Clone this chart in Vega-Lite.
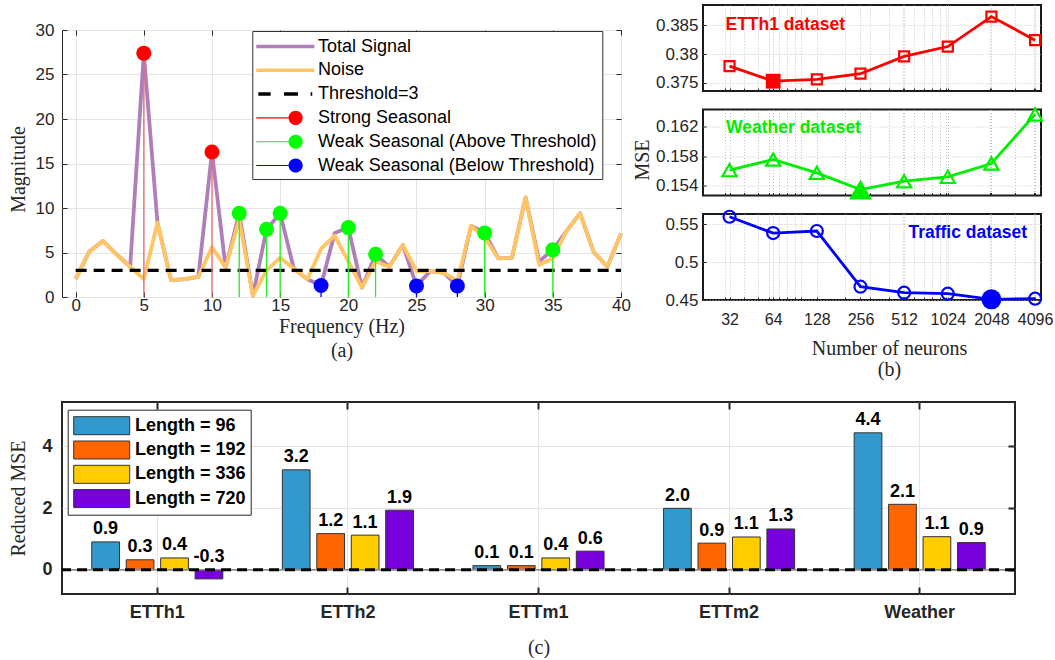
{
"$schema": "https://vega.github.io/schema/vega-lite/v6.json",
"background": "white",
"padding": {"left": 7, "top": 4, "right": 0, "bottom": 0},
"autosize": {"type": "pad"},
"align": "none",
"spacing": 20,
"resolve": {"scale": {"fill": "independent", "stroke": "independent", "shape": "independent", "color": "independent"}, "legend": {"fill": "independent", "stroke": "independent", "shape": "independent", "color": "independent"}},
"datasets": {
"spec": [
{"f":0,"total":2.0,"noise":2.0},
{"f":1,"total":5.1,"noise":5.1},
{"f":2,"total":6.3,"noise":6.3},
{"f":3,"total":4.8,"noise":4.8},
{"f":4,"total":3.4,"noise":3.4},
{"f":5,"total":27.4,"noise":2.0,"kind":"Strong Seasonal"},
{"f":6,"total":8.35,"noise":8.35},
{"f":7,"total":1.9,"noise":1.9},
{"f":8,"total":2.0,"noise":2.0},
{"f":9,"total":2.25,"noise":2.25},
{"f":10,"total":16.3,"noise":5.6,"kind":"Strong Seasonal"},
{"f":11,"total":3.3,"noise":3.3},
{"f":12,"total":9.4,"noise":8.7,"kind":"Weak Seasonal (Above Threshold)"},
{"f":13,"total":0.15,"noise":0.15},
{"f":14,"total":7.6,"noise":3.0,"kind":"Weak Seasonal (Above Threshold)"},
{"f":15,"total":9.4,"noise":4.4,"kind":"Weak Seasonal (Above Threshold)"},
{"f":16,"total":3.2,"noise":3.2},
{"f":17,"total":2.0,"noise":2.0},
{"f":18,"total":1.3,"noise":5.4,"kind":"Weak Seasonal (Below Threshold)"},
{"f":19,"total":7.2,"noise":6.9},
{"f":20,"total":7.8,"noise":4.0,"kind":"Weak Seasonal (Above Threshold)"},
{"f":21,"total":1.05,"noise":1.05},
{"f":22,"total":4.8,"noise":4.0,"kind":"Weak Seasonal (Above Threshold)"},
{"f":23,"total":3.4,"noise":3.4},
{"f":24,"total":5.85,"noise":5.85},
{"f":25,"total":1.25,"noise":2.9,"kind":"Weak Seasonal (Below Threshold)"},
{"f":26,"total":2.9,"noise":2.9},
{"f":27,"total":2.7,"noise":2.7},
{"f":28,"total":1.25,"noise":1.8,"kind":"Weak Seasonal (Below Threshold)"},
{"f":29,"total":8.0,"noise":8.0},
{"f":30,"total":7.2,"noise":6.7,"kind":"Weak Seasonal (Above Threshold)"},
{"f":31,"total":4.35,"noise":4.35},
{"f":32,"total":4.4,"noise":4.4},
{"f":33,"total":11.2,"noise":11.2},
{"f":34,"total":4.0,"noise":3.6},
{"f":35,"total":5.3,"noise":4.35,"kind":"Weak Seasonal (Above Threshold)"},
{"f":36,"total":7.4,"noise":7.4},
{"f":37,"total":9.4,"noise":9.4},
{"f":38,"total":5.05,"noise":5.05},
{"f":39,"total":3.4,"noise":3.4},
{"f":40,"total":7.15,"noise":7.15}
],
"nn": [
{"ds":"ETTh1","n":32,"mse":0.3779},{"ds":"ETTh1","n":64,"mse":0.3753},{"ds":"ETTh1","n":128,"mse":0.3756},{"ds":"ETTh1","n":256,"mse":0.3766},{"ds":"ETTh1","n":512,"mse":0.3796},{"ds":"ETTh1","n":1024,"mse":0.3813},{"ds":"ETTh1","n":2048,"mse":0.3865},{"ds":"ETTh1","n":4096,"mse":0.3824},
{"ds":"Weather","n":32,"mse":0.1561},{"ds":"Weather","n":64,"mse":0.15755},{"ds":"Weather","n":128,"mse":0.15573},{"ds":"Weather","n":256,"mse":0.15345},{"ds":"Weather","n":512,"mse":0.15459},{"ds":"Weather","n":1024,"mse":0.15518},{"ds":"Weather","n":2048,"mse":0.157},{"ds":"Weather","n":4096,"mse":0.1637},
{"ds":"Traffic","n":32,"mse":0.5596},{"ds":"Traffic","n":64,"mse":0.5381},{"ds":"Traffic","n":128,"mse":0.5408},{"ds":"Traffic","n":256,"mse":0.4675},{"ds":"Traffic","n":512,"mse":0.4596},{"ds":"Traffic","n":1024,"mse":0.4583},{"ds":"Traffic","n":2048,"mse":0.4509},{"ds":"Traffic","n":4096,"mse":0.4517}
],
"bars": [
{"ds":"ETTh1","len":"Length = 96","v":0.9},{"ds":"ETTh1","len":"Length = 192","v":0.32},{"ds":"ETTh1","len":"Length = 336","v":0.38},{"ds":"ETTh1","len":"Length = 720","v":-0.3},
{"ds":"ETTh2","len":"Length = 96","v":3.24},{"ds":"ETTh2","len":"Length = 192","v":1.17},{"ds":"ETTh2","len":"Length = 336","v":1.12},{"ds":"ETTh2","len":"Length = 720","v":1.93},
{"ds":"ETTm1","len":"Length = 96","v":0.13},{"ds":"ETTm1","len":"Length = 192","v":0.13},{"ds":"ETTm1","len":"Length = 336","v":0.38},{"ds":"ETTm1","len":"Length = 720","v":0.6},
{"ds":"ETTm2","len":"Length = 96","v":1.99},{"ds":"ETTm2","len":"Length = 192","v":0.86},{"ds":"ETTm2","len":"Length = 336","v":1.06},{"ds":"ETTm2","len":"Length = 720","v":1.32},
{"ds":"Weather","len":"Length = 96","v":4.44},{"ds":"Weather","len":"Length = 192","v":2.12},{"ds":"Weather","len":"Length = 336","v":1.07},{"ds":"Weather","len":"Length = 720","v":0.88}
]
},
"config": {
  "font": "Liberation Sans",
  "locale": {"number": {"decimal": ".", "thousands": ",", "grouping": [3], "currency": ["$", ""], "minus": "-"}},
  "view": {"stroke": "#262626", "strokeWidth": 1},
  "axis": {"domain": false, "labelColor": "#262626", "tickColor": "#262626", "titleColor": "#262626", "titleFont": "Liberation Serif", "titleFontWeight": "normal", "titleFontSize": 20, "labelFont": "Liberation Sans", "labelFontSize": 17, "gridColor": "#e4e4e4", "gridWidth": 1, "tickSize": -5, "labelPadding": 9, "labelOverlap": false, "labelFlush": false},
  "legend": {"title": null}
},
"vconcat": [
 {"hconcat": [
  {"vconcat": [
    {"width": 559, "height": 1, "view": {"stroke": null}, "data": {"values": [{"t": 0}]}, "mark": {"type": "rect", "opacity": 0}, "encoding": {}},
    {"width": 559, "height": 267,
     "data": {"name": "spec"},
     "resolve": {"axis": {"x": "independent", "y": "independent"}},
     "layer": [
      {"mark": {"type": "line", "color": "#b07fba", "strokeWidth": 3.8, "strokeJoin": "round"},
       "encoding": {
        "x": {"field": "f", "type": "quantitative", "scale": {"domain": [-1, 40], "nice": false, "zero": false},
              "axis": {"values": [0,5,10,15,20,25,30,35,40], "grid": true, "labelPadding": 5, "title": ["Frequency (Hz)", "(a)"], "titleLineHeight": 24, "titleX": 279.5, "titleY": 35, "titleAlign": "center", "titleBaseline": "alphabetic", "titleAngle": 0}},
        "y": {"field": "total", "type": "quantitative", "scale": {"domain": [0, 30], "nice": false},
              "axis": {"values": [0,5,10,15,20,25,30], "grid": true, "labelPadding": 13, "title": "Magnitude", "titleX": -44, "titleY": 139, "titleAngle": 270, "titleAlign": "center", "titleBaseline": "middle"}}}},
      {"mark": {"type": "line", "color": "#ffc562", "strokeWidth": 3.8, "strokeJoin": "round"},
       "encoding": {
        "x": {"field": "f", "type": "quantitative", "axis": {"orient": "top", "values": [0,5,10,15,20,25,30,35,40], "labels": false, "grid": false, "title": null, "tickSize": -5}},
        "y": {"field": "noise", "type": "quantitative", "axis": {"orient": "right", "values": [0,5,10,15,20,25,30], "labels": false, "grid": false, "title": null, "tickSize": -5}}}},
      {"data": {"values": [{"threshold": 3}]},
       "mark": {"type": "rule", "color": "#000000", "strokeWidth": 3.2, "strokeDash": [11, 7], "strokeCap": "butt"},
       "encoding": {"x": {"datum": 0, "axis": null}, "x2": {"datum": 40}, "y": {"field": "threshold", "type": "quantitative", "axis": null}}},
      {"transform": [{"filter": "isValid(datum.kind)"}],
       "mark": {"type": "rule", "strokeWidth": 1.3},
       "encoding": {"x": {"field": "f", "type": "quantitative", "axis": null}, "y": {"field": "total", "type": "quantitative", "axis": null}, "y2": {"datum": 0},
        "color": {"field": "kind", "type": "nominal", "scale": {"domain": ["Strong Seasonal","Weak Seasonal (Above Threshold)","Weak Seasonal (Below Threshold)"], "range": ["#f26a6a","#22ee22","#0000ff"]}, "legend": null}}},
      {"transform": [{"filter": "isValid(datum.kind)"}],
       "mark": {"type": "point", "filled": true, "opacity": 0, "size": 1},
       "encoding": {"x": {"field": "f", "type": "quantitative", "axis": null}, "y": {"field": "total", "type": "quantitative", "axis": null},
        "shape": {"field": "kind", "type": "nominal",
          "scale": {"domain": ["Total Signal","Noise","Threshold=3","Strong Seasonal","Weak Seasonal (Above Threshold)","Weak Seasonal (Below Threshold)"],
                    "range": ["M-2.64,-0.16H2.64V0.16H-2.64Z","M-2.64,-0.16H2.64V0.16H-2.64Z","M-2.45,-0.16H-1.33V0.16H-2.45ZM-0.12,-0.16H1.15V0.16H-0.12ZM2.3,-0.16H2.45V0.16H2.3Z",
                              "M-2.64,-0.05H0.4V0.05H-2.64ZM1.58,0C1.58,0.3535 1.2935,0.64 0.94,0.64C0.5865,0.64 0.3,0.3535 0.3,0C0.3,-0.3535 0.5865,-0.64 0.94,-0.64C1.2935,-0.64 1.58,-0.3535 1.58,0Z",
                              "M-2.64,-0.05H0.4V0.05H-2.64ZM1.58,0C1.58,0.3535 1.2935,0.64 0.94,0.64C0.5865,0.64 0.3,0.3535 0.3,0C0.3,-0.3535 0.5865,-0.64 0.94,-0.64C1.2935,-0.64 1.58,-0.3535 1.58,0Z",
                              "M-2.64,-0.05H0.4V0.05H-2.64ZM1.58,0C1.58,0.3535 1.2935,0.64 0.94,0.64C0.5865,0.64 0.3,0.3535 0.3,0C0.3,-0.3535 0.5865,-0.64 0.94,-0.64C1.2935,-0.64 1.58,-0.3535 1.58,0Z"]},
          "legend": {"orient": "none", "legendX": 190.3, "legendY": 26, "title": null, "labelFont": "Liberation Sans", "labelFontSize": 18, "labelColor": "#000000", "labelLimit": 400, "padding": 4.5, "rowPadding": 3.8, "symbolSize": 484, "symbolStrokeWidth": 0, "symbolOpacity": 1, "symbolOffset": 17.5, "labelOffset": 21.7, "fillColor": "#ffffff", "strokeColor": "#333333"}}}},
      {"transform": [{"filter": "isValid(datum.kind)"}],
       "mark": {"type": "circle", "size": 225, "opacity": 1},
       "encoding": {"x": {"field": "f", "type": "quantitative", "axis": null}, "y": {"field": "total", "type": "quantitative", "axis": null},
        "fill": {"field": "kind", "type": "nominal",
          "scale": {"domain": ["Total Signal","Noise","Threshold=3","Strong Seasonal","Weak Seasonal (Above Threshold)","Weak Seasonal (Below Threshold)"], "range": ["#b07fba","#ffc562","#000000","#ff0000","#00ff00","#0000ff"]},
          "legend": {"orient": "none", "legendX": 190.3, "legendY": 26, "title": null, "labelFont": "Liberation Sans", "labelFontSize": 18, "labelColor": "#000000", "labelLimit": 400, "padding": 4.5, "rowPadding": 3.8, "symbolSize": 484, "symbolStrokeWidth": 0, "symbolOpacity": 1, "symbolOffset": 17.5, "labelOffset": 21.7, "fillColor": "#ffffff", "strokeColor": "#333333"}}}}
     ]}
   ], "spacing": 24, "bounds": "flush"},
  {"vconcat": [
    {"width": 338, "height": 86,
     "view": {"stroke": "#1a1a1a", "strokeWidth": 2},
     "data": {"name": "nn"},
     "transform": [{"filter": "datum.ds === 'ETTh1'"}, {"joinaggregate": [{"op": "min", "field": "mse", "as": "best"}]}],
     "layer": [
      {"mark": {"type": "line", "color": "#ff0000", "strokeWidth": 2.8},
       "encoding": {
        "x": {"field": "n", "type": "quantitative", "scale": {"type": "log", "base": 2, "domain": [21, 4500], "nice": false},
              "axis": {"values": [30,32,40,50,60,64,70,80,90,100,128,200,256,300,400,500,512,600,700,800,900,1000,1024,2000,2048,3000,4000,4096], "grid": true, "gridDash": [1, 2], "gridColor": "#c4c4c4", "labels": false, "title": null, "tickSize": -3}},
        "y": {"field": "mse", "type": "quantitative", "scale": {"domain": [0.3736, 0.3885], "nice": false, "zero": false},
              "axis": {"values": [0.375, 0.38, 0.385], "format": ".3~f", "grid": true, "gridDash": [1, 2], "gridColor": "#c4c4c4", "labelPadding": 8, "tickSize": -3, "title": null}}}},
      {"mark": {"type": "point", "shape": "square", "size": 100, "filled": false, "color": "#ff0000", "strokeWidth": 2.2, "opacity": 1},
       "encoding": {"x": {"field": "n", "type": "quantitative"}, "y": {"field": "mse", "type": "quantitative"}}},
      {"transform": [{"filter": "datum.mse === datum.best"}],
       "mark": {"type": "point", "shape": "square", "size": 220, "filled": true, "color": "#ff0000", "opacity": 1},
       "encoding": {"x": {"field": "n", "type": "quantitative"}, "y": {"field": "mse", "type": "quantitative"}}},
      {"data": {"values": [{"label": "ETTh1 dataset"}]},
       "mark": {"type": "text", "color": "#ff0000", "fontWeight": "bold", "fontSize": 17.5, "align": "left", "baseline": "middle"},
       "encoding": {"text": {"field": "label"}, "x": {"datum": 30}, "y": {"datum": 0.385}}}
     ]},
    {"width": 338, "height": 86,
     "view": {"stroke": "#1a1a1a", "strokeWidth": 2},
     "data": {"name": "nn"},
     "transform": [{"filter": "datum.ds === 'Weather'"}, {"joinaggregate": [{"op": "min", "field": "mse", "as": "best"}]}],
     "layer": [
      {"mark": {"type": "line", "color": "#00ee00", "strokeWidth": 2.8},
       "encoding": {
        "x": {"field": "n", "type": "quantitative", "scale": {"type": "log", "base": 2, "domain": [21, 4500], "nice": false},
              "axis": {"values": [30,32,40,50,60,64,70,80,90,100,128,200,256,300,400,500,512,600,700,800,900,1000,1024,2000,2048,3000,4000,4096], "grid": true, "gridDash": [1, 2], "gridColor": "#c4c4c4", "labels": false, "title": null, "tickSize": -3}},
        "y": {"field": "mse", "type": "quantitative", "scale": {"domain": [0.15264, 0.16437], "nice": false, "zero": false},
              "axis": {"values": [0.154, 0.156, 0.158, 0.16, 0.162, 0.164], "format": ".3~f", "grid": true, "gridDash": [1, 2], "gridColor": "#c4c4c4", "labelPadding": 8, "tickSize": -3, "title": "MSE", "titleX": -61, "titleY": 50, "titleAngle": 270, "titleAlign": "center", "titleBaseline": "middle"}}}},
      {"mark": {"type": "point", "shape": "triangle-up", "size": 200, "filled": false, "color": "#00ee00", "strokeWidth": 2.2, "opacity": 1},
       "encoding": {"x": {"field": "n", "type": "quantitative"}, "y": {"field": "mse", "type": "quantitative"}}},
      {"transform": [{"filter": "datum.mse === datum.best"}],
       "mark": {"type": "point", "shape": "triangle-up", "size": 520, "filled": true, "color": "#00ee00", "opacity": 1},
       "encoding": {"x": {"field": "n", "type": "quantitative"}, "y": {"field": "mse", "type": "quantitative"}}},
      {"data": {"values": [{"label": "Weather dataset"}]},
       "mark": {"type": "text", "color": "#00ee00", "fontWeight": "bold", "fontSize": 17.5, "align": "left", "baseline": "middle"},
       "encoding": {"text": {"field": "label"}, "x": {"datum": 30.3}, "y": {"datum": 0.1619}}}
     ]},
    {"width": 338, "height": 86,
     "view": {"stroke": "#1a1a1a", "strokeWidth": 2},
     "data": {"name": "nn"},
     "transform": [{"filter": "datum.ds === 'Traffic'"}, {"joinaggregate": [{"op": "min", "field": "mse", "as": "best"}]}],
     "layer": [
      {"mark": {"type": "line", "color": "#0000ff", "strokeWidth": 2.8},
       "encoding": {
        "x": {"field": "n", "type": "quantitative", "scale": {"type": "log", "base": 2, "domain": [21, 4500], "nice": false},
              "axis": {"values": [30,32,40,50,60,64,70,80,90,100,128,200,256,300,400,500,512,600,700,800,900,1000,1024,2000,2048,3000,4000,4096], "grid": true, "gridDash": [1, 2], "gridColor": "#c4c4c4", "labels": true, "labelExpr": "indexof([32,64,128,256,512,1024,2048,4096], datum.value) >= 0 ? datum.label : ''", "format": "d", "labelFontSize": 16, "labelPadding": 14, "tickSize": -3,
                       "title": ["Number of neurons", "(b)"], "titleLineHeight": 21, "titleX": 186, "titleY": 54, "titleAlign": "center", "titleBaseline": "alphabetic", "titleAngle": 0}},
        "y": {"field": "mse", "type": "quantitative", "scale": {"domain": [0.45, 0.5632], "nice": false, "zero": false},
              "axis": {"values": [0.45, 0.5, 0.55], "format": ".2~f", "grid": true, "gridDash": [1, 2], "gridColor": "#c4c4c4", "labelPadding": 8, "tickSize": -3, "title": null}}}},
      {"mark": {"type": "point", "shape": "circle", "size": 144, "filled": false, "color": "#0000ff", "strokeWidth": 2.2, "opacity": 1},
       "encoding": {"x": {"field": "n", "type": "quantitative"}, "y": {"field": "mse", "type": "quantitative"}}},
      {"transform": [{"filter": "datum.mse === datum.best"}],
       "mark": {"type": "point", "shape": "circle", "size": 400, "filled": true, "color": "#0000ff", "opacity": 1},
       "encoding": {"x": {"field": "n", "type": "quantitative"}, "y": {"field": "mse", "type": "quantitative"}}},
      {"data": {"values": [{"label": "Traffic dataset"}]},
       "mark": {"type": "text", "color": "#0000ff", "fontWeight": "bold", "fontSize": 17.5, "align": "right", "baseline": "middle"},
       "encoding": {"text": {"field": "label"}, "x": {"datum": 3608}, "y": {"datum": 0.538}}}
     ]}
   ], "spacing": 18.5, "bounds": "flush"}
 ], "spacing": 0, "align": "none"},
 {"width": 953, "height": 192,
  "view": {"stroke": "#262626", "strokeWidth": 2},
  "data": {"name": "bars"},
  "resolve": {"axis": {"x": "independent", "y": "independent"}},
  "layer": [
   {"mark": {"type": "bar", "stroke": "#333333", "strokeWidth": 1},
    "encoding": {
     "x": {"field": "ds", "type": "nominal", "sort": ["ETTh1","ETTh2","ETTm1","ETTm2","Weather"], "scale": {"paddingInner": 0.277, "paddingOuter": 0.1385},
           "axis": {"title": "(c)", "titleX": 476.5, "titleY": 59, "titleAlign": "center", "titleBaseline": "alphabetic", "titleAngle": 0, "labelAngle": 0, "labelFontWeight": "bold", "labelFontSize": 18, "labelPadding": 16, "tickSize": -7, "tickWidth": 2, "grid": true}},
     "xOffset": {"field": "len", "type": "nominal", "sort": ["Length = 96","Length = 192","Length = 336","Length = 720"], "scale": {"paddingInner": 0.195, "paddingOuter": 0.0975}},
     "y": {"field": "v", "type": "quantitative", "scale": {"domain": [-0.79, 5.44], "nice": false},
           "axis": {"values": [0, 2, 4], "title": "Reduced MSE", "titleX": -44, "titleY": 96, "titleAngle": 270, "titleAlign": "center", "titleBaseline": "middle", "labelFontWeight": "bold", "labelFontSize": 18, "ticks": false, "labelPadding": 10, "grid": true}},
     "fill": {"field": "len", "type": "nominal", "sort": ["Length = 96","Length = 192","Length = 336","Length = 720"],
       "scale": {"domain": ["Length = 96","Length = 192","Length = 336","Length = 720"], "range": ["#3399cc","#ff6600","#ffcc00","#7700dd"]},
       "legend": {"orient": "none", "legendX": 5.7, "legendY": 7.7, "title": null, "labelFont": "Liberation Sans", "labelFontWeight": "bold", "labelFontSize": 18, "labelColor": "#000000", "labelLimit": 300, "padding": 4.5, "rowPadding": 1.3, "symbolSize": 484, "symbolType": "M-2.545,-0.818H2.545V0.818H-2.545Z", "symbolStrokeColor": "#333333", "symbolStrokeWidth": 1, "symbolOpacity": 1, "symbolOffset": 18, "labelOffset": 21.8, "fillColor": "#ffffff", "strokeColor": "#262626"}}}},
   {"data": {"values": [{"zero": 0}]},
    "mark": {"type": "rule", "color": "#8a8a8a", "strokeWidth": 1.5},
    "encoding": {"y": {"field": "zero", "type": "quantitative", "axis": null}}},
   {"data": {"values": [{"zero": 0}]},
    "mark": {"type": "rule", "color": "#000000", "strokeWidth": 3, "strokeDash": [10, 6], "strokeCap": "butt"},
    "encoding": {"y": {"field": "zero", "type": "quantitative", "axis": null}}},
   {"transform": [{"filter": "datum.v >= 0"}],
    "mark": {"type": "text", "fontWeight": "bold", "fontSize": 18, "baseline": "alphabetic", "dy": -7.6, "color": "#000000"},
    "encoding": {
     "x": {"field": "ds", "type": "nominal", "sort": ["ETTh1","ETTh2","ETTm1","ETTm2","Weather"], "axis": {"orient": "top", "labels": false, "title": null, "grid": false, "tickSize": -7, "tickWidth": 2}},
     "xOffset": {"field": "len", "type": "nominal", "sort": ["Length = 96","Length = 192","Length = 336","Length = 720"]},
     "y": {"field": "v", "type": "quantitative", "axis": {"orient": "right", "values": [0, 2, 4], "labels": false, "title": null, "grid": false, "tickSize": -7, "tickWidth": 2}},
     "text": {"field": "v", "type": "quantitative", "format": ".1f"}}},
   {"transform": [{"filter": "datum.v < 0"}],
    "mark": {"type": "text", "fontWeight": "bold", "fontSize": 18, "baseline": "alphabetic", "dy": -7.6, "color": "#000000"},
    "encoding": {
     "x": {"field": "ds", "type": "nominal", "sort": ["ETTh1","ETTh2","ETTm1","ETTm2","Weather"], "axis": null},
     "xOffset": {"field": "len", "type": "nominal", "sort": ["Length = 96","Length = 192","Length = 336","Length = 720"]},
     "y": {"datum": 0, "axis": null},
     "text": {"field": "v", "type": "quantitative", "format": ".1f"}}}
  ]}
]
}
